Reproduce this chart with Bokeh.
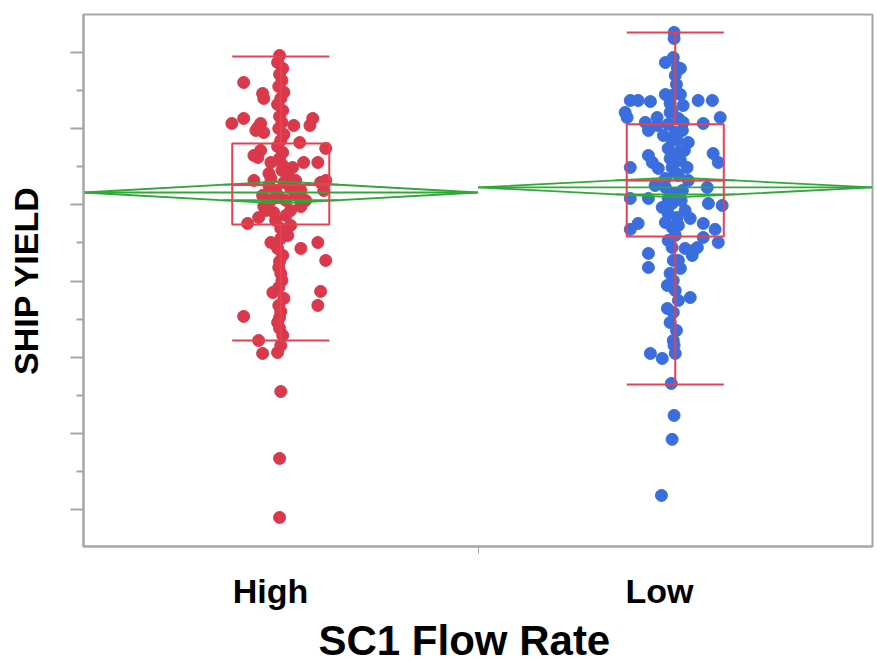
from bokeh.plotting import figure
from bokeh.models import Range1d, LinearAxis, FixedTicker, CustomJSTickFormatter, Title
from bokeh.embed import file_html
from bokeh.resources import INLINE

# ---------------- data ----------------
categories = ["High", "Low"]
x_title = "SC1 Flow Rate"
y_title = "SHIP YIELD"

high_dx = [-0.003, -0.094, -0.046, -0.043, -0.124, -0.094, -0.058, -0.051, -0.043, -0.063,
           0.033, 0.081, 0.074, 0.048, 0.114, -0.068, -0.051, -0.058, -0.025, 0.030,
           0.058, 0.094, -0.068, 0.101, 0.114, 0.109, -0.030, -0.084, -0.056, -0.025,
           0.018, 0.051, 0.094, 0.114, -0.005, 0.0, -0.020, 0.101, 0.094, -0.005,
           -0.094, -0.003, -0.003, -0.056, -0.046, -0.008, 0.0, 0.0, -0.003, -0.003,
           -0.030, -0.013, 0.025, 0.038, 0.013, -0.025, -0.038, 0.025, 0.051, 0.013,
           -0.013, 0.038, -0.046, 0.051, 0.063, -0.025, 0.020, 0.005, -0.043, 0.051,
           0.0, 0.025, -0.018, 0.008,
           -0.008, 0.005, -0.003, 0.003, -0.005, 0.008, 0.0, -0.008, 0.005, -0.003,
           0.003, -0.005, 0.008, 0.0, -0.008, 0.005, -0.003, 0.003, -0.005, 0.008,
           0.0, -0.008, 0.005, -0.003, 0.003, -0.005, 0.008, 0.0, -0.008, 0.005]
high_y = [94.80, 93.03, 92.31, 91.98, 90.34, 90.67, 90.08, 90.34, 89.75, 89.88,
          90.21, 90.67, 90.21, 89.09, 88.70, 88.24, 88.57, 88.11, 87.78, 87.45,
          87.78, 87.78, 86.60, 86.47, 86.60, 85.94, 87.06, 83.78, 84.17, 82.53,
          82.99, 82.14, 82.53, 81.35, 80.89, 80.50, 79.25, 79.32, 78.40, 78.40,
          77.68, 77.61, 76.89, 76.10, 75.25, 75.31, 75.77, 72.75, 68.36, 64.49,
          86.27, 85.94, 86.08, 85.62, 85.29, 85.29, 84.63, 84.63, 84.96, 84.30,
          83.98, 86.60, 85.62, 85.94, 85.29, 86.73, 86.86, 87.59, 84.89, 84.89,
          83.45, 83.65, 84.50, 86.47,
          94.34, 93.95, 93.56, 93.16, 92.77, 92.38, 91.98, 91.59, 91.19, 90.80,
          90.41, 90.01, 89.62, 89.23, 88.83, 88.44, 88.04, 87.26, 85.55, 83.19,
          82.79, 82.14, 81.68, 81.29, 80.04, 79.58, 78.86, 78.00, 77.28, 76.43]

low_dx = [-0.003, -0.003, -0.025, -0.005, 0.005, 0.0, 0.013, -0.114, -0.094, -0.063,
          -0.025, -0.008, 0.013, 0.058, 0.094, -0.127, -0.122, -0.046, -0.013, 0.020,
          -0.013, 0.114, 0.071, -0.076, -0.068, -0.046, -0.030, 0.0, 0.018, -0.008,
          0.033, -0.018, 0.008, -0.068, -0.058, 0.096, 0.109, -0.114, -0.043, -0.008,
          0.030, 0.008, -0.025, -0.051, -0.025, 0.018, -0.005, 0.081, -0.114, -0.068,
          -0.008, 0.025, -0.018, 0.005, -0.025, -0.008, 0.008, 0.084, 0.119, -0.094,
          -0.114, 0.071, 0.101, 0.071, 0.109, -0.008, 0.025, 0.046, 0.056, 0.043,
          -0.068, -0.068, -0.005, 0.008, -0.013, -0.005, 0.0, 0.038, -0.020, -0.005,
          -0.013, -0.005, -0.063, -0.033, 0.0, -0.003, -0.010, -0.003, -0.008, -0.035,
          0.003, -0.008, 0.008, -0.018, 0.020, 0.005, 0.023, -0.013, 0.013, 0.0,
          0.033, -0.018, 0.015, -0.033, 0.038, 0.0, -0.018, 0.013, -0.020, 0.008, 0.003]
low_y = [96.31, 95.92, 94.34, 94.67, 94.02, 93.49, 93.95, 91.85, 91.85, 91.78,
         92.24, 92.18, 92.24, 91.85, 91.85, 91.06, 90.73, 90.73, 91.06, 91.52,
         91.65, 90.73, 90.34, 90.41, 89.88, 90.21, 89.55, 89.75, 89.88, 89.23,
         89.09, 88.70, 88.44, 88.24, 87.78, 88.37, 87.78, 87.45, 87.39, 87.45,
         87.45, 86.93, 86.73, 86.27, 86.14, 85.94, 85.75, 86.14, 85.42, 85.42,
         85.09, 84.63, 84.44, 84.17, 83.84, 83.52, 83.65, 85.09, 84.96, 83.78,
         83.39, 83.78, 83.39, 82.86, 82.53, 82.20, 82.14, 82.01, 82.20, 81.68,
         81.81, 80.89, 81.35, 81.35, 80.50, 80.04, 79.38, 78.92, 78.20, 77.94,
         77.28, 76.10, 75.25, 74.92, 75.25, 75.77, 73.28, 71.18, 69.61, 65.93,
         92.90, 91.19, 90.67, 90.28, 90.41, 89.23, 88.57, 88.04, 87.91, 87.13,
         86.60, 85.42, 85.29, 84.83, 84.11, 82.99, 82.66, 80.83, 79.71, 78.73, 76.76]

# box-plot statistics per category
q1 = [83.71, 82.93]
median = [86.30, 86.60]
q3 = [89.03, 90.28]
whisker_low = [76.10, 73.21]
whisker_high = [94.74, 96.31]

# means diamonds per category
means = [85.81, 86.14]
ci_low = [85.09, 85.49]
ci_high = [86.53, 86.80]
overlap_low = [85.30, 85.68]
overlap_high = [86.32, 86.60]

major_ticks = [65, 70, 75, 80, 85, 90, 95]
minor_ticks = [67.5, 72.5, 77.5, 82.5, 87.5, 92.5]

# ---------------- style ----------------
RED_PT = "#d9394b"
BLUE_PT = "#3a6edf"
BOX_RED = "#e8404e"
GREEN = "#30a838"
GRAY = "#a6a6a6"
FONT = "Liberation Sans"
BOX_HALF = 0.123
label_pos = [0.474, 1.46]

p = figure(width=877, height=667, output_backend="svg", toolbar_location=None,
           x_range=Range1d(0, 2), y_range=Range1d(62.58, 97.49),
           min_border_left=83, min_border_right=5, min_border_top=14, min_border_bottom=121)
p.grid.visible = False
p.outline_line_color = GRAY
p.outline_line_width = 2
p.background_fill_color = "white"
p.border_fill_color = "white"

centers = [0.5 + i for i in range(len(categories))]

# points
p.scatter([centers[0] + d for d in high_dx], high_y, size=12,
          fill_color=RED_PT, line_color=RED_PT)
p.scatter([centers[1] + d for d in low_dx], low_y, size=12,
          fill_color=BLUE_PT, line_color=BLUE_PT)

# means diamonds
for i, c in enumerate(centers):
    p.patch([c - 0.5, c, c + 0.5, c], [means[i], ci_high[i], means[i], ci_low[i]],
            fill_color=None, line_color=GREEN, line_width=1.8)
    p.segment(x0=[c - 0.5], y0=[means[i]], x1=[c + 0.5], y1=[means[i]],
              line_color=GREEN, line_width=1.8)
    half_h = ci_high[i] - means[i]
    for ov in (overlap_low[i], overlap_high[i]):
        w = 0.5 * (1 - abs(ov - means[i]) / half_h)
        p.segment(x0=[c - w], y0=[ov], x1=[c + w], y1=[ov],
                  line_color=GREEN, line_width=1.8)

# box plots
for i, c in enumerate(centers):
    p.quad(left=[c - BOX_HALF], right=[c + BOX_HALF], bottom=[q1[i]], top=[q3[i]],
           fill_color=None, line_color=BOX_RED, line_width=2)
    p.segment(x0=[c - BOX_HALF, c, c, c - BOX_HALF, c - BOX_HALF],
              y0=[median[i], q3[i], q1[i], whisker_high[i], whisker_low[i]],
              x1=[c + BOX_HALF, c, c, c + BOX_HALF, c + BOX_HALF],
              y1=[median[i], whisker_high[i], whisker_low[i], whisker_high[i], whisker_low[i]],
              line_color=BOX_RED, line_width=2)

# y axis
ya = p.yaxis[0]
ya.ticker = FixedTicker(ticks=major_ticks, minor_ticks=minor_ticks)
ya.formatter = CustomJSTickFormatter(code="return ''")
ya.major_tick_out = 13
ya.major_tick_in = 0
ya.minor_tick_out = 7
ya.minor_tick_in = 0
ya.major_tick_line_color = GRAY
ya.minor_tick_line_color = GRAY
ya.major_tick_line_width = 2
ya.minor_tick_line_width = 2
ya.axis_line_color = GRAY
ya.axis_line_width = 2
ya.major_label_standoff = 0
ya.axis_label = y_title
ya.axis_label_text_font = FONT
ya.axis_label_text_font_style = "bold"
ya.axis_label_text_font_size = "34px"
ya.axis_label_text_color = "black"
ya.axis_label_standoff = 26

# x axis: boundary tick
xa = p.xaxis[0]
xa.ticker = FixedTicker(ticks=[1.0], minor_ticks=[])
xa.formatter = CustomJSTickFormatter(code="return ''")
xa.major_tick_out = 7
xa.major_tick_in = 0
xa.major_tick_line_color = GRAY
xa.major_tick_line_width = 1
xa.axis_line_color = GRAY
xa.axis_line_width = 2
xa.major_label_standoff = 0

# x axis: category labels
xl = LinearAxis(ticker=FixedTicker(ticks=label_pos, minor_ticks=[]),
                major_label_overrides={label_pos[0]: categories[0], label_pos[1]: categories[1]},
                axis_line_color=None, major_tick_line_color=None, minor_tick_line_color=None,
                major_label_standoff=12,
                major_label_text_font=FONT, major_label_text_font_style="bold",
                major_label_text_font_size="34px", major_label_text_color="black")
p.add_layout(xl, "below")

# x title (slightly left of centre, as in the original)
xt = Title(text=x_title, align="left", offset=235, standoff=5,
           text_font=FONT, text_font_style="bold", text_font_size="42px",
           text_color="black")
p.add_layout(xt, "below")

open("out.html", "w").write(file_html(p, INLINE))
